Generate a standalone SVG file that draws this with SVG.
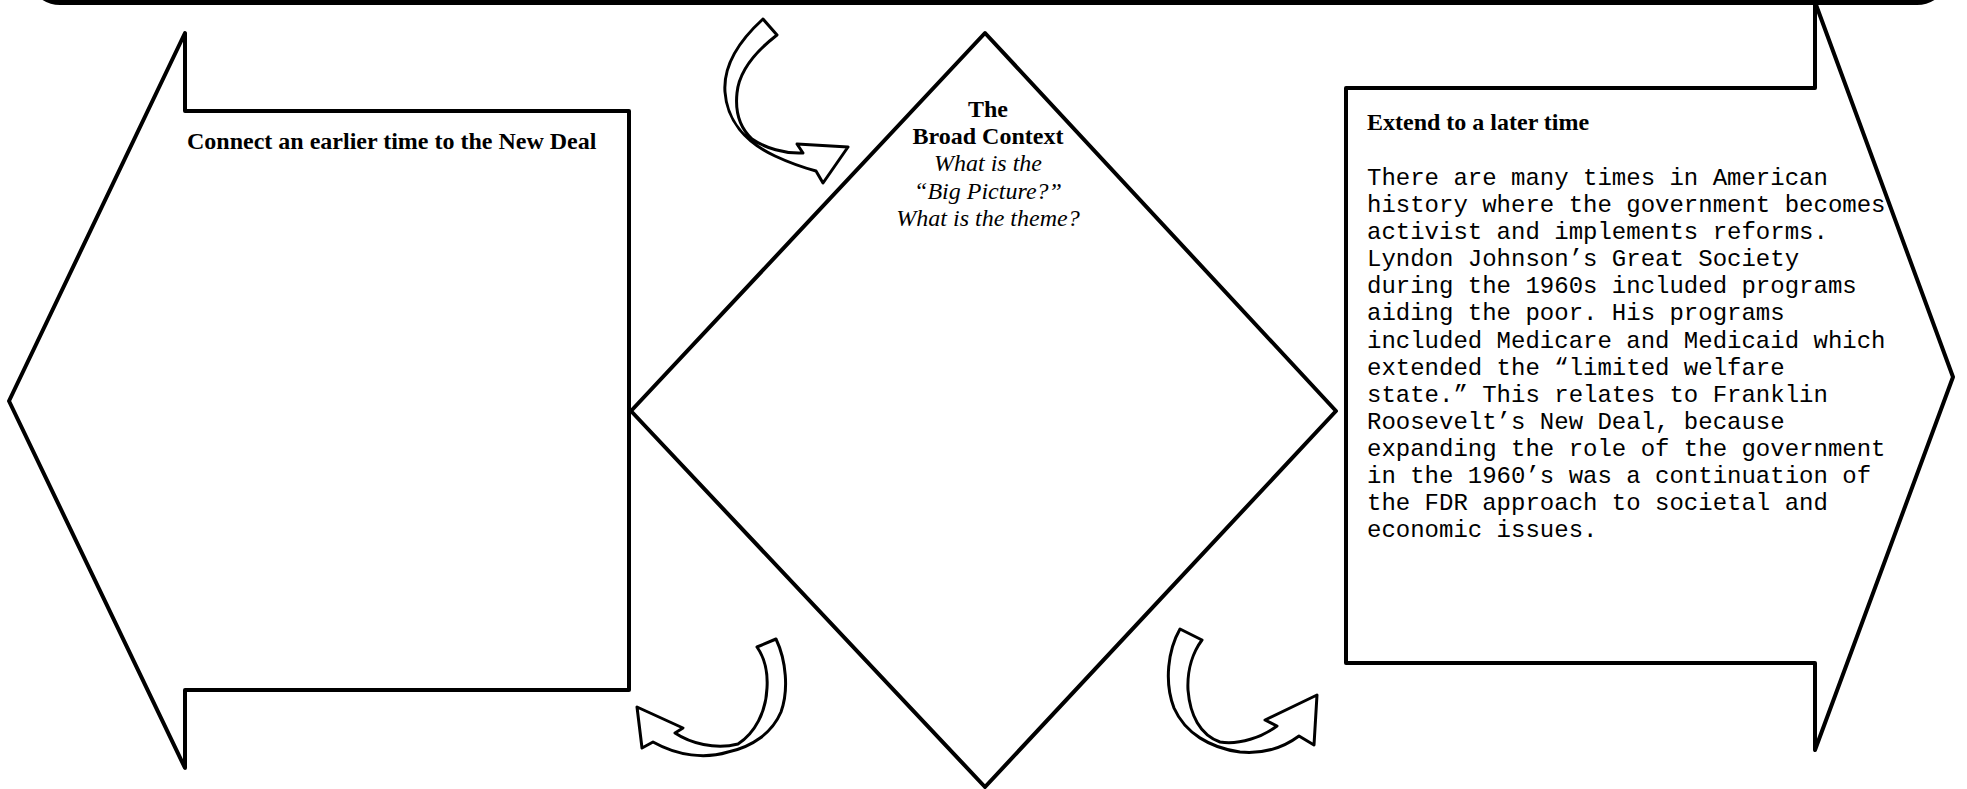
<svg xmlns="http://www.w3.org/2000/svg" width="1967" height="789" viewBox="0 0 1967 789">
<style>
.shape{fill:none;stroke:#000;stroke-width:4;stroke-linejoin:round}
.bar{fill:#fff;stroke:#000;stroke-width:5}
.curved{fill:#fff;stroke:#000;stroke-width:3;stroke-linejoin:round}
.hd{font-family:"Liberation Serif","Times New Roman",serif;font-size:24px;font-weight:bold;fill:#000}
.it{font-family:"Liberation Serif","Times New Roman",serif;font-size:24px;font-style:italic;fill:#000}
.mono{font-family:"Liberation Mono","Courier New",monospace;font-size:24px;fill:#000}
</style>
<rect x="0" y="0" width="1967" height="789" fill="#fff"/>
<g id="top-bar">
<rect class="bar" x="30" y="-60" width="1917" height="62.5" rx="30" ry="30"/>
</g>
<g id="node-earlier">
<path class="shape" d="M9,401 L185,33 L185,111 L629,111 L629,690 L185,690 L185,768 Z"/>
<text class="hd" x="187" y="149">Connect an earlier time to the New Deal</text>
</g>
<g id="node-context">
<path class="shape" d="M985,33 L1336,411 L985,787 L631,411 Z"/>
<text class="hd" x="988" y="117" text-anchor="middle">The</text>
<text class="hd" x="988" y="144.2" text-anchor="middle">Broad Context</text>
<text class="it" x="988" y="171.4" text-anchor="middle">What is the</text>
<text class="it" x="988" y="198.6" text-anchor="middle">“Big Picture?”</text>
<text class="it" x="988" y="225.8" text-anchor="middle">What is the theme?</text>
</g>
<g id="node-later">
<path class="shape" d="M1815,2 L1953,377 L1815,750 L1815,663 L1346,663 L1346,88 L1815,88 Z"/>
<text class="hd" x="1367" y="130">Extend to a later time</text>
<g class="mono">
<text x="1367" y="185">There are many times in American</text>
<text x="1367" y="212.1">history where the government becomes</text>
<text x="1367" y="239.2">activist and implements reforms.</text>
<text x="1367" y="266.2">Lyndon Johnson’s Great Society</text>
<text x="1367" y="293.3">during the 1960s included programs</text>
<text x="1367" y="320.4">aiding the poor. His programs</text>
<text x="1367" y="347.5">included Medicare and Medicaid which</text>
<text x="1367" y="374.6">extended the “limited welfare</text>
<text x="1367" y="401.6">state.” This relates to Franklin</text>
<text x="1367" y="428.7">Roosevelt’s New Deal, because</text>
<text x="1367" y="455.8">expanding the role of the government</text>
<text x="1367" y="482.9">in the 1960’s was a continuation of</text>
<text x="1367" y="510">the FDR approach to societal and</text>
<text x="1367" y="537">economic issues.</text>
</g>
</g>
<g id="connectors">
<path id="arrow-top" class="curved" d="M763,19 C740,40 723,65 725,92 C727,120 745,142 775,156 C790,163 805,168 816,171 L823,183 L848,147 L797,144 L803,153 C785,154 765,148 752,139 C740,128 735,112 737,93 C739,72 755,52 777,35 Z"/>
<path id="arrow-bottom-left" class="curved" d="M776,639 C786,660 789,690 781,712 C772,733 752,747 728,752 C705,759 678,756 653,742 L642,748 L637,707 L683,728 L675,733 C690,743 715,750 738,744 C755,733 766,712 767,688 C768,672 764,657 757,647 Z"/>
<path id="arrow-bottom-right" class="curved" d="M1180,629 C1168,650 1164,682 1174,708 C1185,733 1210,748 1240,752 C1262,754 1283,748 1299,736 L1314,745 L1317,695 L1265,720 L1277,726 C1262,737 1240,745 1220,742 C1200,735 1190,715 1188,690 C1187,670 1193,652 1202,640 Z"/>
</g>
</svg>
